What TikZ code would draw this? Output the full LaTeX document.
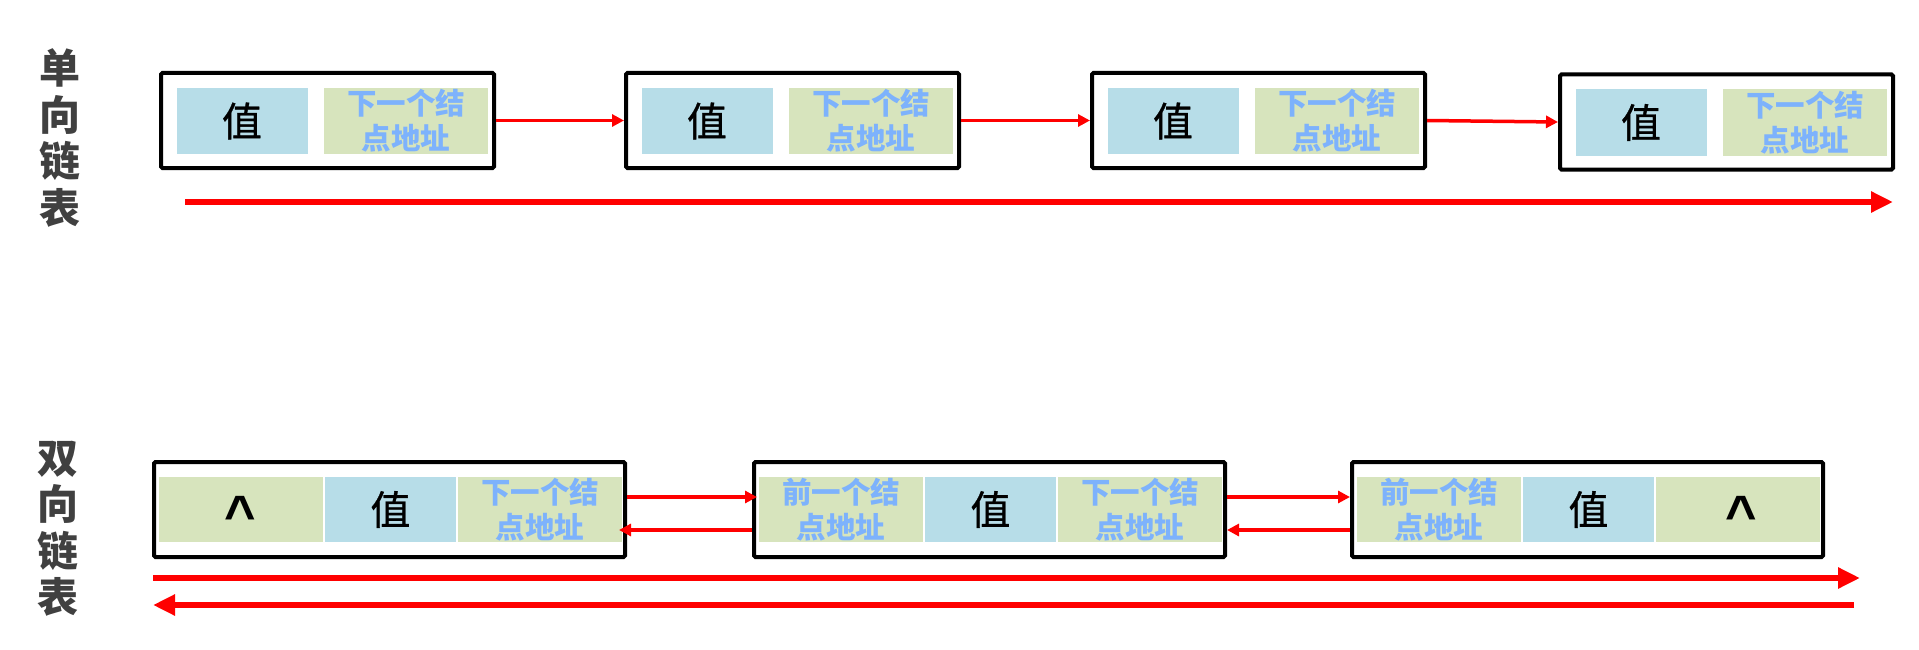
\documentclass[tikz,border=0pt]{standalone}
\usepackage{fontspec}
\setmainfont{Liberation Sans}
\newfontfamily\cjk{Noto Sans CJK SC}
\newfontfamily\cjkmed[FakeBold=0.8]{Noto Sans CJK SC}
\usetikzlibrary{arrows.meta,calc}
\definecolor{valc}{RGB}{183,221,232}
\definecolor{ptrc}{RGB}{215,228,189}
\definecolor{ptrtxt}{RGB}{125,178,252}
\definecolor{lblc}{RGB}{64,64,64}
\definecolor{arrred}{RGB}{255,0,0}
\tikzset{
  nodebox/.style={draw=black, line width=4pt, rounded corners=1.5pt, minimum width=333pt, minimum height=95pt, inner sep=0pt},
  dnodebox/.style={nodebox, minimum width=471pt},
  valcell/.style={fill=valc, inner sep=0pt, minimum width=131pt, minimum height=66pt, font=\cjkmed\fontsize{40}{40}\selectfont},
  ptrcell/.style={fill=ptrc, inner sep=0pt, minimum width=164pt, minimum height=66pt, align=center, text=ptrtxt, font=\cjk\bfseries\fontsize{29.5}{35}\selectfont},
  nullcell/.style={fill=ptrc, inner sep=0pt, minimum width=164pt, minimum height=65pt},
  caret/.style={font=\bfseries\fontsize{54}{54}\selectfont, inner sep=0pt, anchor=base},
  sidelabel/.style={align=center, text=lblc, font=\cjk\bfseries\fontsize{41}{46.5}\selectfont, inner sep=0pt},
  sarrow/.style={draw=arrred, line width=3.5pt, -{Triangle[length=12pt,width=12pt]}},
  larrow/.style={draw=arrred, line width=6pt, -{Triangle[length=22pt,width=20pt]}}
}
\begin{document}
\begin{tikzpicture}[x=1pt,y=-1pt]
\useasboundingbox (0,0) rectangle (1919,650);
% side labels
\node[sidelabel] (lab1) at (60,138) {单\\向\\链\\表};
\node[sidelabel] (lab2) at (58,529) {双\\向\\链\\表};
% singly linked list
\foreach \i/\cx/\cy in {1/327.5/120.5, 2/792.5/120.5, 3/1258.5/120.5, 4/1726.5/122} {
  \node[nodebox] (t\i) at (\cx,\cy) {};
  \node[valcell] (tv\i) at (\cx-85.5,\cy+0.5) {值};
  \node[ptrcell] (tn\i) at (\cx+78.5,\cy+0.5) {下一个结\\点地址};
}
\draw[sarrow] (t1.east) -- (t2.west);
\draw[sarrow] (t2.east) -- (t3.west);
\draw[sarrow] (t3.east) -- (t4.west);
\coordinate (ts) at (185,202);
\coordinate (te) at (1893,202);
\draw[larrow] (ts) -- (te);
% doubly linked list
\node[dnodebox] (b1) at (389.5,509.5) {};
\node[dnodebox] (b2) at (989.5,509.5) {};
\node[dnodebox] (b3) at (1587.5,509.5) {};
% box 1
\node[nullcell] (bp1) at (241,509.5) {};
\node[caret] (c1) at (240,533) {\textasciicircum};
\node[valcell, minimum height=65pt] (bv1) at (390.5,509.5) {值};
\node[ptrcell, minimum height=65pt] (bn1) at (540,509.5) {下一个结\\点地址};
% box 2
\node[ptrcell, minimum height=65pt] (bp2) at (841,509.5) {前一个结\\点地址};
\node[valcell, minimum height=65pt] (bv2) at (990.5,509.5) {值};
\node[ptrcell, minimum height=65pt] (bn2) at (1140,509.5) {下一个结\\点地址};
% box 3
\node[ptrcell, minimum height=65pt] (bp3) at (1439,509.5) {前一个结\\点地址};
\node[valcell, minimum height=65pt] (bv3) at (1588.5,509.5) {值};
\node[nullcell] (bn3) at (1738,509.5) {};
\node[caret] (c3) at (1741,533) {\textasciicircum};
% links
\draw[sarrow] ([yshift=12.5pt]b1.east) -- ([yshift=12.5pt,xshift=5pt]b2.west);
\draw[sarrow] ([yshift=-20.5pt]b2.west) -- ([yshift=-20.5pt,xshift=-8pt]b1.east);
\draw[sarrow] ([yshift=12.5pt]b2.east) -- ([yshift=12.5pt,xshift=0pt]b3.west);
\draw[sarrow] ([yshift=-20.5pt]b3.west) -- ([yshift=-20.5pt,xshift=0pt]b2.east);
\coordinate (bs1) at (153,578);
\coordinate (be1) at (1860,578);
\draw[larrow] (bs1) -- (be1);
\coordinate (bs2) at (1854,605);
\coordinate (be2) at (153,605);
\draw[larrow] (bs2) -- (be2);
\end{tikzpicture}
\end{document}
